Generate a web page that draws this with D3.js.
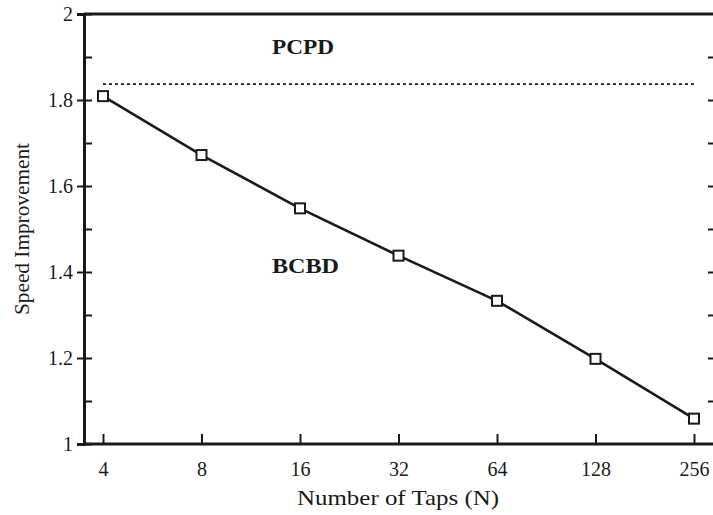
<!DOCTYPE html>
<html>
<head>
<meta charset="utf-8">
<script src="https://cdn.jsdelivr.net/npm/d3@7"></script>
<style>
  html, body { margin: 0; padding: 0; background: #fff; }
  svg text { font-family: "Liberation Serif", "Times New Roman", Times, serif; fill: #1a1a1a; }
</style>
</head>
<body>
<div id="chart"></div>
<script>
// values
var taps = [4, 8, 16, 32, 64, 128, 256];
var speedup = [1.809, 1.672, 1.548, 1.438, 1.333, 1.198, 1.059];
var pcpdLevel = 1.837;
var yMajor = [1, 1.2, 1.4, 1.6, 1.8, 2];
var yMinor = [1, 1.1, 1.2, 1.3, 1.4, 1.5, 1.6, 1.7, 1.8, 1.9, 2];
var yLabels = ["1", "1.2", "1.4", "1.6", "1.8", "2"];

var W = 713, H = 515;
var margin = {top: 14, right: 0, bottom: 71, left: 84},
    width = W - margin.left - margin.right,
    height = H - margin.top - margin.bottom;

var svg = d3.select("#chart").append("svg")
    .attr("width", W)
    .attr("height", H)
  .append("g")
    .attr("transform", "translate(" + margin.left + "," + margin.top + ")");

var x = d3.scaleLog().base(2).domain([4, 256]).range([19, 610]);
var y = d3.scaleLinear().domain([1, 2]).range([height, 0]);

// frame lines (top and bottom run to the picture edge)
svg.append("line").attr("x1", 0).attr("x2", width).attr("y1", 0).attr("y2", 0)
  .attr("stroke", "#1a1a1a").attr("stroke-width", 3);
svg.append("line").attr("x1", -1).attr("x2", width).attr("y1", height).attr("y2", height)
  .attr("stroke", "#1a1a1a").attr("stroke-width", 3);

// left axis: outward major ticks with labels
var yAxis = d3.axisLeft(y).tickValues(yMajor).tickSize(7).tickPadding(4)
  .tickFormat(function(d, i) { return yLabels[i]; });
var gy = svg.append("g").call(yAxis).attr("font-size", null).attr("font-family", null);
gy.select(".domain").attr("stroke-width", 3).attr("stroke", "#1a1a1a");
gy.selectAll(".tick line").attr("stroke-width", 2).attr("stroke", "#1a1a1a");
gy.selectAll(".tick text").style("font-size", "20px").attr("fill", "#1a1a1a");

// inward ticks every 0.1 on left
var gyIn = svg.append("g").call(d3.axisRight(y).tickValues(yMinor).tickSize(8).tickFormat(""));
gyIn.select(".domain").remove();
gyIn.selectAll(".tick line").attr("stroke-width", 2).attr("stroke", "#1a1a1a");

// right side ticks (frame edge is at the picture border)
var gyR = svg.append("g").attr("transform", "translate(" + (width + 1) + ",0)")
  .call(d3.axisLeft(y).tickValues(yMinor.slice(1, -1)).tickSize(6).tickFormat(""));
gyR.select(".domain").remove();
gyR.selectAll(".tick line").attr("stroke-width", 2).attr("stroke", "#1a1a1a");

// bottom axis with inward ticks
var xAxis = d3.axisBottom(x).tickValues(taps).tickSizeInner(-10).tickSizeOuter(0).tickPadding(18)
  .tickFormat(d3.format("d"));
var gx = svg.append("g").attr("transform", "translate(0," + height + ")").call(xAxis)
  .attr("font-size", null).attr("font-family", null);
gx.select(".domain").remove();
gx.selectAll(".tick line").attr("stroke-width", 2).attr("stroke", "#1a1a1a");
gx.selectAll(".tick text").style("font-size", "20px").attr("fill", "#1a1a1a");

// dotted PCPD reference
svg.append("line")
  .attr("x1", x(taps[0])).attr("x2", x(taps[taps.length - 1]))
  .attr("y1", y(pcpdLevel)).attr("y2", y(pcpdLevel))
  .attr("stroke", "#1a1a1a").attr("stroke-width", 1.6)
  .attr("stroke-dasharray", "3,3");

var data = taps.map(function(t, i) { return {n: t, v: speedup[i]}; });

var line = d3.line()
  .x(function(d) { return x(d.n); })
  .y(function(d) { return y(d.v); });

svg.append("path").datum(data)
  .attr("d", line)
  .attr("fill", "none")
  .attr("stroke", "#1a1a1a")
  .attr("stroke-width", 2.6);

svg.selectAll("rect.pt").data(data).enter().append("rect")
  .attr("class", "pt")
  .attr("x", function(d) { return x(d.n) - 5; })
  .attr("y", function(d) { return y(d.v) - 5; })
  .attr("width", 10).attr("height", 10)
  .attr("fill", "#fff").attr("stroke", "#1a1a1a").attr("stroke-width", 2);

// in-plot labels
svg.append("text").attr("x", 188).attr("y", 40)
  .style("font-size", "21px").attr("font-weight", "bold")
  .attr("textLength", 62).attr("lengthAdjust", "spacingAndGlyphs")
  .text("PCPD");
svg.append("text").attr("x", 188).attr("y", 259)
  .style("font-size", "21px").attr("font-weight", "bold")
  .attr("textLength", 67).attr("lengthAdjust", "spacingAndGlyphs")
  .text("BCBD");

// axis titles
svg.append("text")
  .attr("x", 314).attr("y", 491)
  .attr("text-anchor", "middle")
  .style("font-size", "21px")
  .attr("textLength", 202).attr("lengthAdjust", "spacingAndGlyphs")
  .text("Number of Taps (N)");

svg.append("text")
  .attr("transform", "translate(" + (29 - margin.left) + "," + (229 - margin.top) + ") rotate(-90)")
  .attr("text-anchor", "middle")
  .style("font-size", "21px")
  .attr("textLength", 172).attr("lengthAdjust", "spacingAndGlyphs")
  .text("Speed Improvement");
</script>
</body>
</html>
